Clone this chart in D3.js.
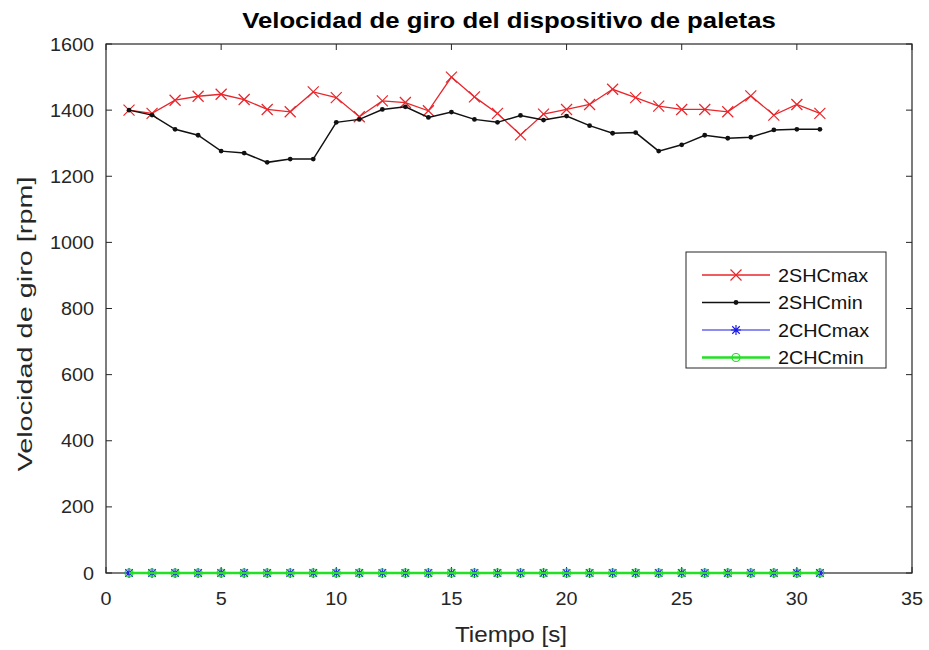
<!DOCTYPE html>
<html><head><meta charset="utf-8">
<script src="https://cdn.jsdelivr.net/npm/d3@7"></script>
<style>body{margin:0;background:#fff;} svg{display:block;font-family:"Liberation Sans",Arial,sans-serif;}</style>
</head><body>
<svg id="c" width="929" height="650"></svg>
<script>
const time = d3.range(1, 32);
const shcMax = [1400,1390,1430,1442,1448,1432,1402,1395,1455,1438,1380,1428,1423,1398,1500,1440,1390,1325,1388,1402,1417,1463,1438,1412,1402,1402,1395,1443,1385,1417,1390];
const shcMin = [1400,1385,1342,1324,1276,1270,1242,1252,1252,1363,1372,1402,1410,1378,1394,1372,1363,1384,1370,1382,1353,1330,1332,1276,1295,1324,1315,1318,1340,1342,1342];
const chcMax = [0,0,0,0,0,0,0,0,0,0,0,0,0,0,0,0,0,0,0,0,0,0,0,0,0,0,0,0,0,0,0];
const chcMin = [0,0,0,0,0,0,0,0,0,0,0,0,0,0,0,0,0,0,0,0,0,0,0,0,0,0,0,0,0,0,0];
const xTicks = [0,5,10,15,20,25,30,35];
const yTicks = [0,200,400,600,800,1000,1200,1400,1600];
const seriesNames = ["2SHCmax","2SHCmin","2CHCmax","2CHCmin"];
const seriesColors = ["#e8262b","#111111","#1a1ae6","#22e022"];
const seriesMarkers = ["x","dot","star","circle"];
const seriesData = [shcMax, shcMin, chcMax, chcMin];

const L=106,R=912,T=44,B=573;
const SX=1.1;
const svg=d3.select("#c");
const x=d3.scaleLinear().domain([0,35]).range([L,R]);
const y=d3.scaleLinear().domain([0,1600]).range([B,T]);
const axisCol="#262626";

function txt(parent,px,py,str,size,anchor,opts={}){
  const t=parent.append("text").attr("transform",`translate(${px},${py}) scale(${opts.sx||SX},1)`)
    .attr("text-anchor",anchor).attr("font-size",size).attr("fill",opts.fill||axisCol).text(str);
  if(opts.bold) t.attr("font-weight","bold");
  return t;
}

const tl=6;
const g=svg.append("g");
xTicks.forEach(t=>{
  g.append("line").attr("x1",x(t)).attr("x2",x(t)).attr("y1",B).attr("y2",B-tl).attr("stroke",axisCol);
  g.append("line").attr("x1",x(t)).attr("x2",x(t)).attr("y1",T).attr("y2",T+tl).attr("stroke",axisCol);
  txt(g,x(t),605,t,18,"middle");
});
yTicks.forEach(t=>{
  g.append("line").attr("x1",L).attr("x2",L+tl).attr("y1",y(t)).attr("y2",y(t)).attr("stroke",axisCol);
  g.append("line").attr("x1",R).attr("x2",R-tl).attr("y1",y(t)).attr("y2",y(t)).attr("stroke",axisCol);
  txt(g,L-12,y(t)+6.5,t,18,"end");
});
svg.append("rect").attr("x",L).attr("y",T).attr("width",R-L).attr("height",B-T).attr("fill","none").attr("stroke",axisCol).attr("stroke-width",1.2);

txt(svg,(L+R)/2,28,"Velocidad de giro del dispositivo de paletas",23,"middle",{bold:true,fill:"#000",sx:1.12});
txt(svg,511,642,"Tiempo [s]",22,"middle");
svg.append("text").attr("transform",`translate(32,324) rotate(-90)`).attr("text-anchor","middle")
  .attr("font-size",21).attr("fill",axisCol).attr("textLength",295).attr("lengthAdjust","spacingAndGlyphs").text("Velocidad de giro [rpm]");

function marker(sel,type,cx,cy,col){
  if(type==="x"){
    const s=5.5;
    sel.append("path").attr("d",`M${cx-s},${cy-s}L${cx+s},${cy+s}M${cx-s},${cy+s}L${cx+s},${cy-s}`).attr("stroke",col).attr("stroke-width",1.2).attr("fill","none");
  } else if(type==="dot"){
    sel.append("circle").attr("cx",cx).attr("cy",cy).attr("r",2.4).attr("fill",col);
  } else if(type==="star"){
    const s=5;
    sel.append("path").attr("d",`M${cx-s},${cy}L${cx+s},${cy}M${cx},${cy-s}L${cx},${cy+s}M${cx-s*0.75},${cy-s*0.75}L${cx+s*0.75},${cy+s*0.75}M${cx-s*0.75},${cy+s*0.75}L${cx+s*0.75},${cy-s*0.75}`).attr("stroke",col).attr("stroke-width",1.2).attr("fill","none");
  } else if(type==="circle"){
    sel.append("circle").attr("cx",cx).attr("cy",cy).attr("r",4).attr("fill","none").attr("stroke",col).attr("stroke-width",1.2);
  }
}
const line=d3.line().x((d,i)=>x(time[i])).y(d=>y(d));
const lw=[1.3,1.5,1.2,2.5];
seriesData.forEach((data,k)=>{
  const gs=svg.append("g");
  gs.append("path").datum(data).attr("d",line).attr("fill","none").attr("stroke",seriesColors[k]).attr("stroke-width",lw[k]);
  data.forEach((v,i)=>marker(gs,seriesMarkers[k],x(time[i]),y(v),seriesColors[k]));
});

// legend
const lx=686, ly=252, lwid=200, lh=116;
const lg=svg.append("g");
lg.append("rect").attr("x",lx).attr("y",ly).attr("width",lwid).attr("height",lh).attr("fill","#fff").attr("stroke",axisCol);
seriesNames.forEach((n,k)=>{
  const yy=ly+23+k*27.5;
  lg.append("line").attr("x1",lx+16).attr("x2",lx+84).attr("y1",yy).attr("y2",yy).attr("stroke",seriesColors[k]).attr("stroke-width",lw[k]);
  marker(lg,seriesMarkers[k],lx+50,yy,seriesColors[k]);
  txt(lg,lx+92,yy+6.5,n,18,"start",{fill:"#111"});
});
</script>
</body></html>
